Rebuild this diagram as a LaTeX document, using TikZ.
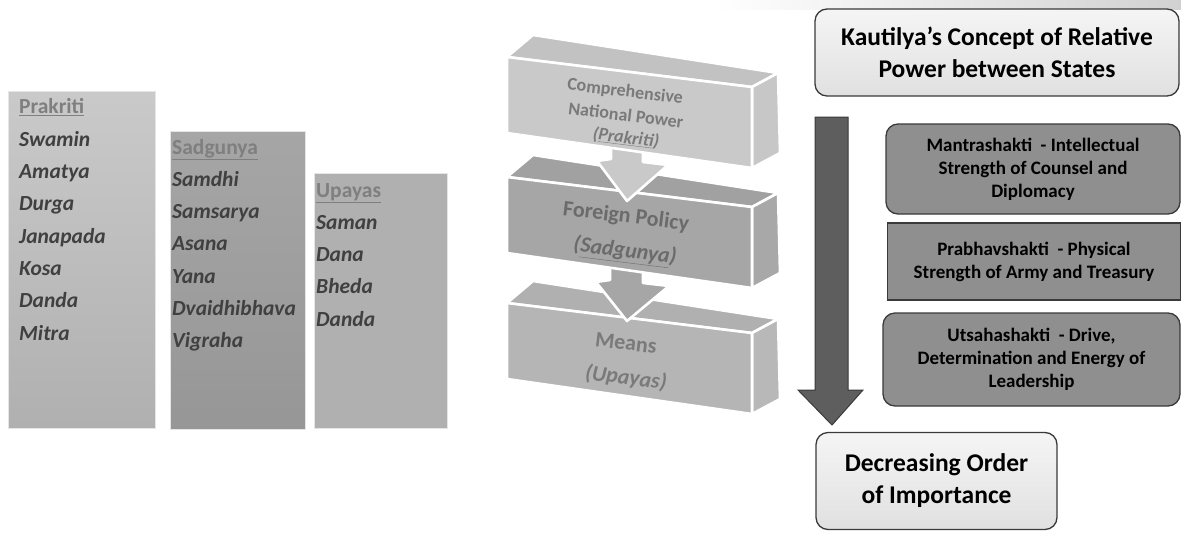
\documentclass[tikz,border=0pt]{standalone}
\usepackage{fontspec}
\setmainfont{Carlito}
\definecolor{headgray}{HTML}{7F7F7F}
\definecolor{itemgray}{HTML}{404040}
\definecolor{edgegray}{HTML}{3A3A3A}
\definecolor{boxgray}{HTML}{8F8F8F}
\definecolor{arrowgray}{HTML}{5E5E5E}
\begin{document}
\begin{tikzpicture}[x=1pt,y=-1pt,
  listbox/.style={draw=black!10, line width=0.8pt, inner sep=0pt, anchor=north west},
  listhead/.style={anchor=base west, inner sep=0pt, text=headgray,
    font=\fontsize{21.5}{24}\selectfont\bfseries},
  listitem/.style={anchor=base west, inner sep=0pt, text=itemgray,
    font=\fontsize{21.5}{24}\selectfont\bfseries\itshape},
  slabedge/.style={draw=white, line width=2.6pt, line join=round},
  slabtext/.style={rotate=-7, inner sep=0pt},
  smallslab/.style={slabtext, font=\fontsize{18}{23}\selectfont\bfseries},
  bigslab/.style={slabtext, font=\fontsize{22}{35}\selectfont\bfseries},
  rbox/.style={draw=edgegray, line width=1.3pt, fill=boxgray, align=center,
    inner sep=0pt, font=\fontsize{19}{23}\selectfont\bfseries},
  lightbox/.style={draw=edgegray, line width=1.3pt, rounded corners=12pt,
    top color=black!4, bottom color=black!12, align=center, inner sep=0pt,
    font=\fontsize{25.5}{32}\selectfont\bfseries}
]
\useasboundingbox (0,0) rectangle (1181,536);

% ---------- the three lists ----------
\node[listbox, top color=black!21, bottom color=black!31, minimum width=147pt, minimum height=337pt] (prakbox) at (8,91) {};
\node[listbox, top color=black!35, bottom color=black!41, minimum width=135pt, minimum height=298pt] (sadbox) at (170,131) {};
\node[listbox, fill=black!31, minimum width=133pt, minimum height=255pt] (upabox) at (314,173) {};

\node[listhead] (prakhead) at (19,113.5) {\underline{Prakriti}};
\foreach [count=\i] \w in {Swamin,Amatya,Durga,Janapada,Kosa,Danda,Mitra}
  \node[listitem] (prak\i) at (19,{114+32.3*\i}) {\w};

\node[listhead] (sadhead) at (172,154) {\underline{Sadgunya}};
\foreach [count=\i] \w in {Samdhi,Samsarya,Asana,Yana,Dvaidhibhava,Vigraha}
  \node[listitem] (sad\i) at (172,{154+32.3*\i}) {\w};

\node[listhead] (upahead) at (316,197) {\underline{Upayas}};
\foreach [count=\i] \w in {Saman,Dana,Bheda,Danda}
  \node[listitem] (upa\i) at (316,{197+32.3*\i}) {\w};

% ---------- stacked slabs ----------
% #1 top-left y of the front face, #2 front, #3 top face, #4 side face
\newcommand\slab[4]{%
  \filldraw[slabedge, fill=#3] (507,#1) -- (533,#1-22) -- (778,#1+16) -- (752,#1+30) -- cycle;
  \filldraw[slabedge, fill=#4] (752,#1+30) -- (778,#1+16) -- (780,#1+96) -- (752,#1+111) -- cycle;
  \filldraw[slabedge, fill=#2] (507,#1) -- (752,#1+30) -- (752,#1+111) -- (507,#1+76) -- cycle;
}
\slab{303}{black!29}{black!31}{black!28}
\filldraw[slabedge, fill=black!35] (610,262) -- (610,280) -- (596,282) -- (627,321) -- (669,286) -- (643,283) -- (643,266) -- cycle;
\slab{177}{black!35}{black!37}{black!34}
\filldraw[slabedge, fill=black!21] (611,140) -- (611,159) -- (597,161) -- (627,201) -- (668,165) -- (643,162) -- (643,145) -- cycle;
\slab{57}{black!21}{black!24}{black!22}

\node[smallslab, text=black!52] (cnp1) at (625,92) {Comprehensive};
\node[smallslab, text=black!52] (cnp2) at (626,115) {National Power};
\node[smallslab, text=black!52] (cnp3) at (626,138) {\itshape(\underline{Prakriti})};
\node[bigslab, text=black!58] (fp1) at (626,217) {Foreign Policy};
\node[bigslab, text=black!58] (fp2) at (625,252) {\itshape(\underline{Sadgunya})};
\node[bigslab, text=black!52] (mn1) at (626,343) {Means};
\node[bigslab, text=black!52] (mn2) at (626,378) {\itshape(Upayas)};

% ---------- right column ----------
\shade[left color=white, right color=black!18] (715,0) rectangle (1181,9);
\node[lightbox, minimum width=364pt, minimum height=87pt] (title) at (997,52.5)
  {Kautilya’s Concept of Relative\\Power between States};

\filldraw[fill=arrowgray, draw=edgegray, line width=1pt, line join=miter]
  (815,117) -- (848,117) -- (848,390) -- (863,390) -- (832,425) -- (798,390) -- (815,390) -- cycle;

\node[rbox, rounded corners=12pt, minimum width=294pt, minimum height=90pt] (mantra) at (1033,169)
  {Mantrashakti~~- Intellectual\\Strength of Counsel and\\Diplomacy};
\node[rbox, minimum width=293pt, minimum height=77pt] (prabhav) at (1034,261.5)
  {Prabhavshakti~~- Physical\\Strength of Army and Treasury};
\node[rbox, rounded corners=12pt, minimum width=297pt, minimum height=93pt] (utsaha) at (1031.5,359.5)
  {Utsahashakti~~- Drive,\\Determination and Energy of\\Leadership};

\node[lightbox, minimum width=241pt, minimum height=97pt] (order) at (936.5,481)
  {Decreasing Order\\of Importance};
\end{tikzpicture}
\end{document}
